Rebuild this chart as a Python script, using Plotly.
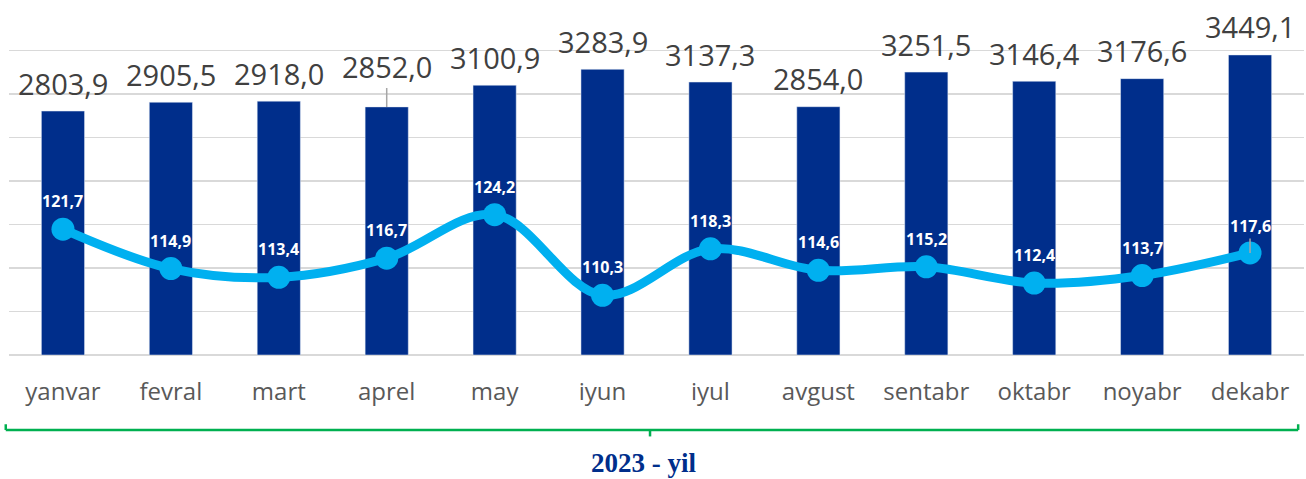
import plotly.graph_objects as go

months = ["yanvar", "fevral", "mart", "aprel", "may", "iyun", "iyul",
          "avgust", "sentabr", "oktabr", "noyabr", "dekabr"]
volume = [2803.9, 2905.5, 2918.0, 2852.0, 3100.9, 3283.9, 3137.3,
          2854.0, 3251.5, 3146.4, 3176.6, 3449.1]
growth = [121.7, 114.9, 113.4, 116.7, 124.2, 110.3, 118.3,
          114.6, 115.2, 112.4, 113.7, 117.6]
period_label = "2023 - yil"

def fmt(v):
    return f"{v:.1f}".replace(".", ",")

BAR = "#002E8B"
LINE = "#00B0F0"
GRID = "#D9D9D9"
FONT = "Open Sans"

fig = go.Figure()
fig.add_trace(go.Bar(x=months, y=volume, marker_color=BAR, width=0.4,
                     hoverinfo="skip", showlegend=False))
fig.add_trace(go.Scatter(x=months, y=growth, yaxis="y2", mode="lines+markers",
                         line=dict(color=LINE, width=9, shape="spline", smoothing=1.0),
                         marker=dict(color=LINE, size=23),
                         hoverinfo="skip", showlegend=False))

ann = []
for m, v in zip(months, volume):
    if m == "aprel":
        ann.append(dict(x=m, y=v, xref="x", yref="y", text=fmt(v), showarrow=True,
                        arrowhead=0, arrowwidth=1.5, arrowcolor="#A6A6A6", ax=0, ay=-40,
                        standoff=0, startstandoff=0,
                        font=dict(family=FONT, size=29, color="#404040")))
    else:
        ann.append(dict(x=m, y=v, xref="x", yref="y", text=fmt(v), showarrow=False,
                        yanchor="middle", yshift=28,
                        font=dict(family=FONT, size=29, color="#404040")))
for m, v in zip(months, growth):
    if m == "dekabr":
        ann.append(dict(x=m, y=v, xref="x", yref="y2", text=fmt(v), showarrow=True,
                        arrowhead=0, arrowwidth=1.5, arrowcolor="#A6A6A6", ax=0, ay=-27,
                        standoff=0, startstandoff=0,
                        font=dict(family=FONT, size=16, color="white", weight="bold")))
    else:
        ann.append(dict(x=m, y=v, xref="x", yref="y2", text=fmt(v), showarrow=False,
                        yanchor="middle", yshift=28,
                        font=dict(family=FONT, size=16, color="white", weight="bold")))

ann.append(dict(x=0.49, y=-0.3555, xref="paper", yref="paper", text=period_label,
                showarrow=False, xanchor="center", yanchor="bottom", borderpad=0,
                font=dict(family="Liberation Serif", size=27, color=BAR, weight="bold")))

G = "#00B050"
shapes = [
    dict(type="line", xref="paper", yref="paper", x0=-0.0025, x1=0.9955, y0=-0.2155, y1=-0.2155,
         line=dict(color=G, width=2.5)),
    dict(type="line", xref="paper", yref="paper", x0=-0.0025, x1=-0.0025, y0=-0.2155, y1=-0.199,
         line=dict(color=G, width=2.5)),
    dict(type="line", xref="paper", yref="paper", x0=0.9955, x1=0.9955, y0=-0.2155, y1=-0.199,
         line=dict(color=G, width=2.5)),
    dict(type="line", xref="paper", yref="paper", x0=0.495, x1=0.495, y0=-0.2155, y1=-0.234,
         line=dict(color=G, width=2.5)),
]

fig.update_layout(
    width=1306, height=479, autosize=False,
    margin=dict(l=9, r=2, t=7, b=124, pad=0, autoexpand=False),
    paper_bgcolor="white", plot_bgcolor="white",
    xaxis=dict(range=[-0.5, len(months) - 0.5], showgrid=False, showline=False, ticks="",
               ticklabelstandoff=20, automargin=False,
               tickfont=dict(family=FONT, size=24, color="#595959"), fixedrange=True),
    yaxis=dict(range=[0, 4000], dtick=500, showgrid=True, gridcolor=GRID, gridwidth=1.5,
               showticklabels=False, zeroline=True, zerolinecolor=GRID, zerolinewidth=2,
               automargin=False, fixedrange=True),
    yaxis2=dict(range=[100, 160], overlaying="y", side="right", showgrid=False, automargin=False,
                showticklabels=False, zeroline=False, fixedrange=True),
    annotations=ann, shapes=shapes,
)

fig.write_html("out.html", config={"displayModeBar": False, "staticPlot": True},
               post_script="document.body.style.margin='0';document.body.style.overflow='hidden';")
